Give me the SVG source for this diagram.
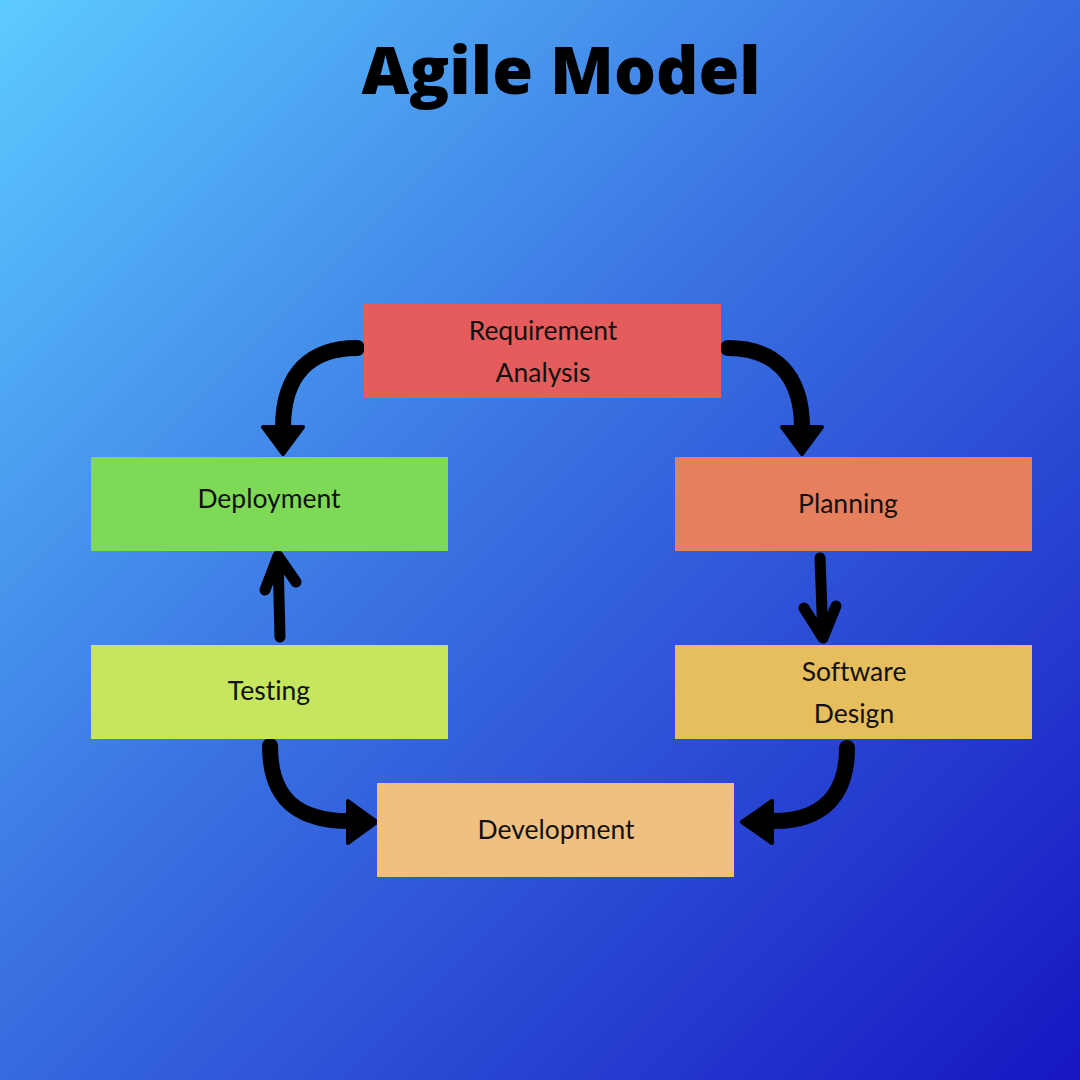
<svg xmlns="http://www.w3.org/2000/svg" width="1080" height="1080" viewBox="0 0 1080 1080">
<defs>
<linearGradient id="bg" x1="0" y1="0" x2="1" y2="1">
<stop offset="0" stop-color="#5CCBFF"/>
<stop offset="0.45" stop-color="#3A72E2"/>
<stop offset="1" stop-color="#1616C2"/>
</linearGradient>
<style>
.lbl{font-family:"Lato","Open Sans",sans-serif;font-size:26.5px;fill:#111;text-anchor:middle;font-variant-ligatures:none}
.ttl{font-family:"Open Sans",sans-serif;font-weight:800;font-size:66px;fill:#000;text-anchor:middle}
.ln{fill:none;stroke:#000;stroke-width:16;stroke-linecap:round;stroke-linejoin:round}
.thin{fill:none;stroke:#000;stroke-width:11;stroke-linecap:round;stroke-linejoin:round}
.hd{fill:#000;stroke:#000;stroke-width:4;stroke-linejoin:round}
</style>
</defs>
<rect width="1080" height="1080" fill="url(#bg)"/>
<text class="ttl" x="561" y="94">Agile Model</text>
<g id="connectors">
<path class="ln" d="M357 348 C312 348 283 372 283 428"/>
<path class="hd" d="M263 427 L303 427 L283 454 Z"/>
<path class="ln" d="M728 348 C774 348 802 374 802 428"/>
<path class="hd" d="M782 427 L822 427 L802 454 Z"/>
<path class="thin" d="M280 637 L278 556 M278 556 L265 590 M278 556 L296 582"/>
<path class="thin" d="M820 558 L823 638 M823 638 L804 608 M823 638 L836 606"/>
<path class="ln" d="M270 746 C270 798 296 821 350 821"/>
<path class="hd" d="M348 801 L348 843 L377 822 Z"/>
<path class="ln" d="M847 748 C847 796 822 821 774 821"/>
<path class="hd" d="M772 801 L772 843 L742 822 Z"/>
</g>
<g id="requirement">
<rect x="364" y="304" width="357" height="94" fill="#E55C5C"/>
<text class="lbl" x="543" y="340">Requirement</text>
<text class="lbl" x="543" y="382">Analysis</text>
</g>
<g id="deployment">
<rect x="91" y="457" width="357" height="94" fill="#7ED957"/>
<text class="lbl" x="269" y="508">Deployment</text>
</g>
<g id="planning">
<rect x="675" y="457" width="357" height="94" fill="#E57F5E"/>
<text class="lbl" x="848" y="513">Planning</text>
</g>
<g id="testing">
<rect x="91" y="645" width="357" height="94" fill="#C5E65E"/>
<text class="lbl" x="269" y="700">Testing</text>
</g>
<g id="software-design">
<rect x="675" y="645" width="357" height="94" fill="#E6BE5E"/>
<text class="lbl" x="854" y="681">Software</text>
<text class="lbl" x="854" y="723">Design</text>
</g>
<g id="development">
<rect x="377" y="783" width="357" height="94" fill="#F0C080"/>
<text class="lbl" x="556" y="839">Development</text>
</g>
</svg>
